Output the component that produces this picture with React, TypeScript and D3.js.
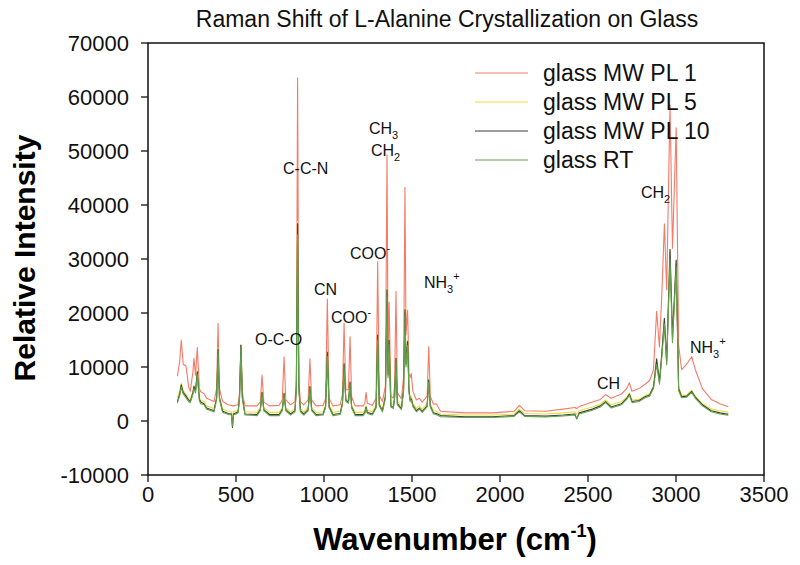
import React from "react";
import * as d3 from "d3";

// ---- data ----
const wavenumber = [
  167, 180, 189, 200, 216, 230, 240, 255, 261, 270,
  280, 292, 300, 318, 333, 375, 390, 398, 406, 424,
  456, 474, 480, 486, 512, 520, 528, 536, 551, 620,
  638, 648, 658, 690, 745, 763, 773, 783, 810, 835,
  843, 850, 857, 866, 885, 910, 920, 930, 955, 995,
  1009, 1019, 1029, 1050, 1092, 1105, 1114, 1124, 1139, 1148,
  1157, 1177, 1222, 1232, 1239, 1246, 1275, 1296, 1305, 1314,
  1332, 1349, 1358, 1364, 1370, 1380, 1394, 1401, 1409, 1417,
  1440, 1452, 1460, 1466, 1475, 1483, 1490, 1496, 1505, 1525,
  1542, 1558, 1586, 1595, 1604, 1622, 1638, 1662, 1800, 1960,
  2080, 2110, 2140, 2260, 2360, 2425, 2436, 2450, 2525, 2570,
  2600, 2632, 2690, 2720, 2735, 2750, 2790, 2824, 2850, 2872,
  2890, 2906, 2920, 2934, 2947, 2966, 2980, 3001, 3015, 3032,
  3060, 3089, 3110, 3150, 3200, 3250, 3297,
];

const glassMWPL1 = [
  8300, 11000, 15000, 10500, 10200, 6500, 5500, 9000, 11600, 8500,
  13600, 6000, 5400, 5100, 4200, 3600, 6000, 18100, 6000, 3600,
  3000, 2900, 2800, 2800, 3000, 5200, 14000, 5200, 2800, 2800,
  3500, 8500, 3500, 2800, 2900, 3900, 11900, 3900, 3000, 3600,
  7500, 63500, 7500, 3600, 3000, 3900, 11500, 3900, 2800, 2900,
  4200, 22600, 4200, 2800, 3000, 5000, 18100, 5800, 5800, 15600,
  4500, 2800, 2800, 3300, 5300, 3300, 2900, 4200, 29500, 4700,
  3600, 6500, 49300, 12000, 22000, 4700, 4200, 6500, 24000, 5200,
  4100, 8000, 43300, 16000, 20500, 8800, 8000, 8800, 5500, 3900,
  4200, 3500, 4600, 13800, 4600, 3100, 3200, 1800, 1500, 1500,
  1800, 2900, 1900, 1800, 2200, 2500, 2300, 2700, 3500, 4000,
  4900, 4200, 5000, 6000, 7100, 5500, 6000, 6800, 7500, 9500,
  20300, 13700, 24000, 36500, 24300, 58500, 32000, 54300, 14000, 9500,
  10500, 11900, 9500, 6000, 4000, 3200, 2650,
];

const glassMWPL5 = [
  4300, 5500, 7000, 5600, 5000, 4200, 3900, 5500, 6600, 5800,
  9300, 4300, 3800, 3600, 2800, 2300, 4500, 13500, 4500, 2200,
  1800, 1700, 600, 1700, 2000, 4600, 14000, 4600, 1700, 1600,
  2500, 5500, 2500, 1600, 1600, 2500, 5300, 2500, 1700, 2300,
  6500, 37000, 6500, 2300, 1700, 2500, 6500, 2500, 1600, 1700,
  3000, 12800, 3000, 1600, 1800, 3600, 10700, 4200, 3800, 7300,
  2900, 1600, 1600, 2000, 2800, 2000, 1700, 3000, 16000, 3300,
  2300, 4800, 24500, 9000, 15200, 3200, 2900, 4600, 11800, 3600,
  2700, 6000, 21000, 11000, 15000, 6000, 4200, 4600, 3300, 2300,
  2800, 2200, 3200, 7800, 3200, 1900, 1800, 1300, 1100, 1100,
  1300, 2200, 1400, 1300, 1500, 1700, 1200, 1900, 2600, 3100,
  3900, 3000, 3600, 4400, 5200, 3900, 4000, 4700, 5000, 6500,
  11300, 7500, 12500, 18800, 10800, 31500, 15000, 29500, 6500, 4700,
  4800, 5700, 4600, 3200, 2200, 1900, 1600,
];

const glassMWPL10 = [
  3600, 5000, 6700, 5300, 4600, 3900, 3600, 5200, 6400, 5500,
  9100, 4000, 3500, 3200, 2400, 1900, 4300, 13300, 4300, 1800,
  1400, 1300, -1200, 1300, 1700, 4400, 14070, 4400, 1300, 1200,
  2100, 5300, 2100, 1200, 1200, 2100, 5100, 2100, 1300, 1900,
  6300, 36500, 6300, 1900, 1300, 2100, 6400, 2100, 1200, 1300,
  2700, 12700, 2700, 1200, 1400, 3300, 10600, 3900, 3500, 7200,
  2600, 1200, 1200, 1600, 2600, 1600, 1300, 2600, 15900, 3000,
  1900, 4500, 24300, 8500, 15000, 2800, 2500, 4300, 11600, 3200,
  2300, 5800, 20600, 10500, 14700, 5600, 3800, 4100, 2900, 1900,
  2400, 1800, 2800, 7600, 2800, 1500, 1400, 1000, 800, 800,
  1000, 1900, 1000, 900, 1100, 1300, 400, 1500, 2200, 2800,
  3600, 2600, 3200, 4200, 5000, 3600, 3800, 4500, 4800, 6300,
  11500, 7200, 12800, 19000, 11000, 31800, 15500, 29800, 6000, 4500,
  4600, 5500, 4400, 3000, 1900, 1500, 1230,
];

const glassRT = [
  3300, 4700, 6300, 5000, 4300, 3600, 3400, 4900, 6000, 5200,
  8600, 3700, 3200, 3000, 2200, 1700, 4000, 12600, 4000, 1600,
  1200, 1100, -900, 1100, 1500, 4100, 13500, 4100, 1100, 1000,
  1900, 5000, 1900, 1000, 1000, 1900, 4800, 1900, 1100, 1700,
  6000, 34500, 6000, 1700, 1100, 1900, 6000, 1900, 1000, 1100,
  2500, 12000, 2500, 1000, 1200, 3100, 10000, 3600, 3300, 6800,
  2400, 1000, 1000, 1400, 2400, 1400, 1100, 2400, 15000, 2800,
  1700, 4200, 23000, 8000, 14200, 2600, 2300, 4100, 11000, 3000,
  2100, 5500, 19500, 10000, 14000, 5300, 3600, 3900, 2700, 1700,
  2200, 1600, 2600, 7200, 2600, 1300, 1200, 800, 650, 650,
  850, 1700, 850, 750, 950, 1100, 500, 1300, 2000, 2600,
  3400, 2400, 3000, 4000, 4800, 3400, 3600, 4300, 4600, 6000,
  10500, 6800, 12000, 18000, 10400, 30000, 14500, 28500, 5600, 4300,
  4400, 5300, 4200, 2800, 1700, 1300, 1050,
];

const seriesNames = ["glass MW PL 1", "glass MW PL 5", "glass MW PL 10", "glass RT"];
const seriesColors = ["#f57a68", "#e8e03a", "#3d3d3d", "#62a34e"];
const xTicks = [0, 500, 1000, 1500, 2000, 2500, 3000, 3500];
const yTicks = [-10000, 0, 10000, 20000, 30000, 40000, 50000, 60000, 70000];

const chartTitle = "Raman Shift of L-Alanine Crystallization on Glass";

// ---- layout ----
const W = 800;
const H = 565;
const L = 148;
const R = 764;
const T = 43;
const B = 475;
const FONT = "'Liberation Sans', Arial, Helvetica, sans-serif";

export default function App() {
  const x = d3.scaleLinear().domain([0, 3500]).range([L, R]);
  const y = d3.scaleLinear().domain([-10000, 70000]).range([B, T]);
  const allSeries = [glassMWPL1, glassMWPL5, glassMWPL10, glassRT];
  const line = d3
    .line<number>()
    .x((_, i) => x(wavenumber[i]))
    .y((d) => y(d));

  const legendY = [73, 102, 131, 160];

  const annot = (
    key: string,
    px: number,
    py: number,
    main: string,
    sub?: string,
    sup?: string
  ) => (
    <text key={key} x={px} y={py} fontSize={16} fontFamily={FONT} fill="#111">
      {main}
      {sub ? (
        <tspan fontSize={11} dy={5}>
          {sub}
        </tspan>
      ) : null}
      {sup ? (
        <tspan fontSize={11} dy={sub ? -13 : -7}>
          {sup}
        </tspan>
      ) : null}
    </text>
  );

  return (
    <svg
      width={W}
      height={H}
      style={{ position: "absolute", left: 0, top: 0, background: "#fff" }}
      fontFamily={FONT}
    >
      <rect x={0} y={0} width={W} height={H} fill="#fff" />
      {/* title */}
      <text x={447} y={27} fontSize={23} textAnchor="middle" fill="#111">
        {chartTitle}
      </text>

      {/* series */}
      <g clipPath="url(#clip)">
        <defs>
          <clipPath id="clip">
            <rect x={L} y={T} width={R - L} height={B - T} />
          </clipPath>
        </defs>
        {allSeries.map((s, i) => (
          <path
            key={seriesNames[i]}
            d={line(s) || ""}
            fill="none"
            stroke={seriesColors[i]}
            strokeWidth={1.1}
            strokeLinejoin="round"
          />
        ))}
      </g>

      {/* frame */}
      <rect x={L} y={T} width={R - L} height={B - T} fill="none" stroke="#111" strokeWidth={1.5} />

      {/* y axis ticks */}
      {yTicks.map((t) => (
        <g key={"y" + t}>
          <line x1={L - 7} x2={L} y1={y(t)} y2={y(t)} stroke="#111" strokeWidth={1.3} />
          <text x={L - 19} y={y(t)} dy="0.36em" fontSize={22} textAnchor="end" fill="#111">
            {t}
          </text>
        </g>
      ))}

      {/* x axis ticks */}
      {xTicks.map((t) => (
        <g key={"x" + t}>
          <line x1={x(t)} x2={x(t)} y1={B} y2={B + 7} stroke="#111" strokeWidth={1.3} />
          <text x={x(t)} y={B + 27} fontSize={22} textAnchor="middle" fill="#111">
            {t}
          </text>
        </g>
      ))}

      {/* axis titles */}
      <text
        x={455}
        y={550}
        fontSize={31}
        fontWeight="bold"
        textAnchor="middle"
        fill="#000"
      >
        Wavenumber (cm
        <tspan fontSize={18} dy={-13}>
          -1
        </tspan>
        <tspan dy={13}>)</tspan>
      </text>
      <text
        transform="translate(35,258) rotate(-90)"
        fontSize={30}
        fontWeight="bold"
        textAnchor="middle"
        fill="#000"
      >
        Relative Intensity
      </text>

      {/* legend */}
      {seriesNames.map((n, i) => (
        <g key={"lg" + n}>
          <line x1={475} x2={528} y1={legendY[i]} y2={legendY[i]} stroke={seriesColors[i]} strokeWidth={1.2} />
          <text x={543} y={legendY[i]} dy="0.36em" fontSize={23} fill="#111">
            {n}
          </text>
        </g>
      ))}

      {/* peak annotations */}
      {annot("ccn", 283, 174, "C-C-N")}
      {annot("ch3", 369, 134, "CH", "3")}
      {annot("ch2a", 371, 156, "CH", "2")}
      {annot("coo1", 350, 259, "COO", undefined, "-")}
      {annot("cn", 314, 295, "CN")}
      {annot("coo2", 331, 323, "COO", undefined, "-")}
      {annot("oco", 255, 345, "O-C-O")}
      {annot("nh3a", 424, 288, "NH", "3", "+")}
      {annot("ch", 597, 389, "CH")}
      {annot("ch2b", 641, 198, "CH", "2")}
      {annot("nh3b", 690, 353, "NH", "3", "+")}
    </svg>
  );
}
